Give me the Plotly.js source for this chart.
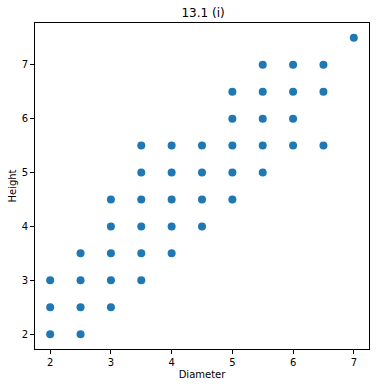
<!DOCTYPE html>
<html>
<head>
<meta charset="utf-8">
<script src="https://cdn.plot.ly/plotly-3.0.1.min.js"></script>
<style>html,body{margin:0;padding:0;background:#fff;}#chart{width:376px;height:387px;}</style>
</head>
<body>
<div id="chart"></div>
<script>
const diameter = [2,2,2, 2.5,2.5,2.5,2.5, 3,3,3,3,3, 3.5,3.5,3.5,3.5,3.5,3.5, 4,4,4,4,4, 4.5,4.5,4.5,4.5, 5,5,5,5,5, 5.5,5.5,5.5,5.5,5.5, 6,6,6,6, 6.5,6.5,6.5, 7];
const height   = [2,2.5,3, 2,2.5,3,3.5, 2.5,3,3.5,4,4.5, 3,3.5,4,4.5,5,5.5, 3.5,4,4.5,5,5.5, 4,4.5,5,5.5, 4.5,5,5.5,6,6.5, 5,5.5,6,6.5,7, 5.5,6,6.5,7, 5.5,6.5,7, 7.5];
const xTicks = [2,3,4,5,6,7];
const yTicks = [2,3,4,5,6,7];

const font = {family: 'DejaVu Sans', size: 10, color: '#000'};
const axisCommon = {
  showline: true, mirror: true, linecolor: '#000', linewidth: 1,
  ticks: 'outside', ticklen: 4, tickwidth: 1, tickcolor: '#000',
  showgrid: false, zeroline: false, tickfont: font
};
Plotly.newPlot('chart', [{
  x: diameter, y: height, type: 'scatter', mode: 'markers',
  marker: {color: '#1f77b4', size: 8, line: {width: 0}}
}], {
  width: 376, height: 387,
  margin: {l: 35, r: 6.5, t: 23, b: 38},
  paper_bgcolor: '#fff', plot_bgcolor: '#fff',
  font: font,
  title: {text: '13.1 (i)', font: {family: 'DejaVu Sans', size: 12, color: '#000'}, x: 0.54, xanchor: 'center', y: 0.968, yanchor: 'middle'},
  xaxis: Object.assign({}, axisCommon, {range: [1.75, 7.25], tickvals: xTicks, ticktext: xTicks.map(String),
    title: {text: 'Diameter', font: font, standoff: 3}}),
  yaxis: Object.assign({}, axisCommon, {range: [1.725, 7.775], tickvals: yTicks, ticktext: yTicks.map(String),
    title: {text: 'Height', font: font, standoff: 3}}),
  showlegend: false
}, {displayModeBar: false, staticPlot: true});
</script>
</body>
</html>
